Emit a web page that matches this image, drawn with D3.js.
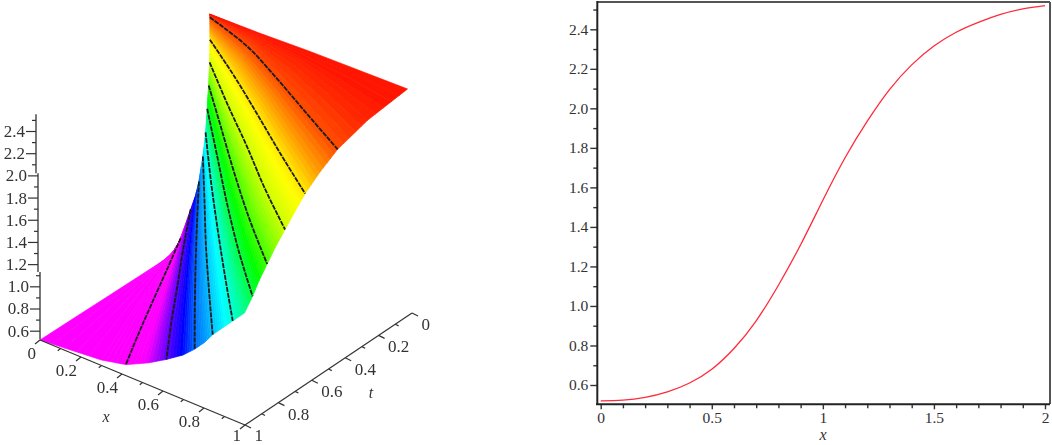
<!DOCTYPE html>
<html>
<head>
<meta charset="utf-8">
<script src="https://cdn.jsdelivr.net/npm/d3@7"></script>
<style>
  body { margin: 0; background: #fff; }
  text { font-family: "Liberation Serif", serif; fill: #333; }
</style>
</head>
<body>
<div id="chart"></div>
<script>
// right plot: curve
var curveX = [0, 0.1, 0.2, 0.3, 0.4, 0.5, 0.6, 0.7, 0.8, 0.9, 1, 1.1, 1.2, 1.3, 1.4, 1.5, 1.6, 1.7, 1.8, 1.9, 2];
var curveY = [0.52, 0.523, 0.537, 0.565, 0.61, 0.68, 0.785, 0.925, 1.105, 1.31, 1.535, 1.75, 1.935, 2.095, 2.22, 2.315, 2.385, 2.435, 2.475, 2.503, 2.52];
var rightYMajor = [0.6, 0.8, 1.0, 1.2, 1.4, 1.6, 1.8, 2.0, 2.2, 2.4];
var rightYMinor = [0.7, 0.9, 1.1, 1.3, 1.5, 1.7, 1.9, 2.1, 2.3, 2.5];
var rightXMajor = [0, 0.5, 1, 1.5, 2];
var rightXMinor = [0.1, 0.2, 0.3, 0.4, 0.6, 0.7, 0.8, 0.9, 1.1, 1.2, 1.3, 1.4, 1.6, 1.7, 1.8, 1.9];

// left plot: the surface, kept as height lines.
// each row is one height: the line runs from x=0 to x=lineEndX, t is read at 5 stations along it
var stations = [0, 0.25, 0.5, 0.75, 1];
var heights = [0.52, 0.57, 0.62, 0.72, 0.82, 0.92, 1.02, 1.12, 1.22, 1.32, 1.42, 1.52, 1.62, 1.72, 1.82, 1.92, 2.02, 2.12, 2.22, 2.32, 2.42];
var lineEndX = [0, 0.30, 0.42, 0.53, 0.62, 0.70, 0.76, 0.81, 0.85, 0.90, 0.95, 1, 1, 1, 1, 1, 1, 1, 1, 1, 1];
var lineT = [
  [0.244, 0.433, 0.622, 0.811, 1],
  [0.215, 0.41, 0.61, 0.805, 1],
  [0.19, 0.39, 0.595, 0.80, 1],
  [0.16, 0.37, 0.58, 0.79, 1],
  [0.13, 0.35, 0.565, 0.785, 1],
  [0.10, 0.325, 0.55, 0.775, 1],
  [0.08, 0.31, 0.54, 0.77, 1],
  [0.068, 0.30, 0.535, 0.77, 1],
  [0.055, 0.29, 0.53, 0.765, 1],
  [0.045, 0.284, 0.52, 0.76, 1],
  [0.037, 0.28, 0.52, 0.76, 1],
  [0.03, 0.27, 0.515, 0.755, 0.99],
  [0.025, 0.255, 0.49, 0.72, 0.94],
  [0.02, 0.24, 0.465, 0.685, 0.90],
  [0.014, 0.225, 0.44, 0.65, 0.85],
  [0.01, 0.21, 0.41, 0.61, 0.80],
  [0.006, 0.19, 0.37, 0.56, 0.74],
  [0.004, 0.165, 0.335, 0.51, 0.68],
  [0.002, 0.145, 0.30, 0.46, 0.617],
  [0.001, 0.105, 0.24, 0.385, 0.53],
  [0, 0.07, 0.18, 0.30, 0.42]
];
// the shoulder between the last height line and the t=0 edge: heights and t at the same stations
var shoulderU = [2.44, 2.45, 2.48, 2.50, 2.50];
var shoulderT = [0, 0.02, 0.07, 0.15, 0.24];
var topEdgeU = [2.45, 2.47, 2.50, 2.52, 2.54];
var drawnLines = [0.62, 0.82, 1.02, 1.22, 1.42, 1.62, 1.82, 2.02, 2.22, 2.42];
var hueHeights = [0.52, 0.7, 0.82, 1.02, 1.22, 1.42, 1.62, 1.82, 2.02, 2.22, 2.42, 2.5, 2.53];
var hueValues = [300, 300, 262, 215, 195, 172, 135, 105, 72, 55, 18, 3, 0];

var leftXTicks = [0, 0.2, 0.4, 0.6, 0.8, 1];
var leftXMinor = [0.1, 0.3, 0.5, 0.7, 0.9];
var leftZTicks = [0.6, 0.8, 1.0, 1.2, 1.4, 1.6, 1.8, 2.0, 2.2, 2.4];
var leftZMinor = [0.7, 0.9, 1.1, 1.3, 1.5, 1.7, 1.9, 2.1, 2.3, 2.5];

var svg = d3.select("#chart").append("svg").attr("width", 1052).attr("height", 445);
var defs = svg.append("defs");
defs.append("filter").attr("id", "soft").append("feGaussianBlur").attr("stdDeviation", 0.35);

//---------- right plot
var x = d3.scaleLinear().domain([0, 2]).range([600.7, 1045]);
var y = d3.scaleLinear().domain([0.6, 2.4]).range([385, 29.3]);
var right = svg.append("g");

right.append("line").attr("x1", 597).attr("x2", 1050).attr("y1", 2).attr("y2", 2).attr("stroke", "#555").attr("stroke-width", 2);
right.append("line").attr("x1", 1050).attr("x2", 1050).attr("y1", 2).attr("y2", 404).attr("stroke", "#555").attr("stroke-width", 2);

function styleAxis(g) {
  g.selectAll("path").remove();
  g.selectAll("line").attr("stroke", "#333").attr("stroke-width", 1.4);
  g.selectAll("text").style("font-size", "15.5px").attr("fill", "#333");
}

right.append("g").attr("transform", "translate(597.3,0)")
  .call(d3.axisLeft(y).tickValues(rightYMajor).tickSize(7).tickPadding(2).tickFormat(d3.format(".1f"))).call(styleAxis);
right.append("g").attr("transform", "translate(597.3,0)")
  .call(d3.axisLeft(y).tickValues(rightYMinor).tickSize(4).tickFormat("")).call(styleAxis);
right.append("g").attr("transform", "translate(0,404.3)")
  .call(d3.axisBottom(x).tickValues(rightXMajor).tickSize(5).tickPadding(3).tickFormat(d3.format("~g"))).call(styleAxis);
right.append("g").attr("transform", "translate(0,404.3)")
  .call(d3.axisBottom(x).tickValues(rightXMinor).tickSize(4).tickFormat("")).call(styleAxis);

right.append("line").attr("x1", 597.3).attr("x2", 597.3).attr("y1", 1).attr("y2", 405).attr("stroke", "#222").attr("stroke-width", 2);
right.append("line").attr("x1", 596).attr("x2", 1050).attr("y1", 404.3).attr("y2", 404.3).attr("stroke", "#222").attr("stroke-width", 2);

right.append("text").attr("x", 823).attr("y", 440).attr("text-anchor", "middle")
  .style("font-size", "16px").style("font-style", "italic").text("x");

var line = d3.line().x(function(d) { return x(d[0]); }).y(function(d) { return y(d[1]); }).curve(d3.curveNatural);
right.append("path").datum(d3.zip(curveX, curveY)).attr("d", line)
  .attr("fill", "none").attr("stroke", "#ff2a3a").attr("stroke-width", 1.3);

//---------- left plot
var left = svg.append("g").attr("filter", "url(#soft)");

// where the floor edges x=0 and x=1 run on the page as t goes 1 -> 0
var edge0X = d3.scaleLinear().domain([1, 0]).range([40, 214]);
var edge0Y = d3.scaleLinear().domain([1, 0]).range([340, 228]);
var edge1X = d3.scaleLinear().domain([1, 0]).range([245, 412]);
var edge1Y = d3.scaleLinear().domain([1, 0]).range([425, 313]);
var liftY = d3.scaleLinear().domain([0.52, 2.4]).range([0, -208.5]);
var leanX = d3.scaleLinear().domain([0.52, 2.4]).range([0, -4.2]);

function project(px, pt, pu) {
  return [
    d3.interpolateNumber(edge0X(pt), edge1X(pt))(px) + leanX(pu),
    d3.interpolateNumber(edge0Y(pt), edge1Y(pt))(px) + liftY(pu)
  ];
}

var rows = heights.map(function(h, r) {
  return stations.map(function(s, i) { return project(lineEndX[r] * s, lineT[r][i], h); });
});
var rowU = heights.map(function(h) { return stations.map(function() { return h; }); });
rows.push(stations.map(function(s, i) { return project(s, shoulderT[i], shoulderU[i]); }));
rowU.push(shoulderU);
rows.push(stations.map(function(s, i) { return project(s, 0, topEdgeU[i]); }));
rowU.push(topEdgeU);

var hue = d3.scaleLinear().domain(hueHeights).range(hueValues);
var strips = [];
var perBand = 5;
d3.range(rows.length - 1).forEach(function(r) {
  d3.range(perBand).forEach(function(k) {
    var a = k / perBand, b = (k + 1) / perBand;
    var low = rows[r].map(function(p, i) { return d3.interpolate(p, rows[r + 1][i])(a); });
    var high = rows[r].map(function(p, i) { return d3.interpolate(p, rows[r + 1][i])(b); });
    var u = d3.interpolateNumber(d3.mean(rowU[r]), d3.mean(rowU[r + 1]))((a + b) / 2);
    strips.push({ pts: low.concat(high.reverse()), u: u });
  });
});

left.selectAll(".strip").data(strips).enter().append("polygon")
  .attr("class", "strip")
  .attr("points", function(d) { return d.pts.join(" "); })
  .attr("fill", function(d) { return d3.hsl(hue(d.u), 1, 0.5); })
  .attr("stroke", function(d) { return d3.hsl(hue(d.u), 1, 0.5); })
  .attr("stroke-width", 0.7);

var contour = d3.line().curve(d3.curveCatmullRom);
left.selectAll(".level").data(drawnLines).enter().append("path")
  .attr("class", "level")
  .attr("d", function(h) { return contour(rows[heights.indexOf(h)]); })
  .attr("fill", "none")
  .attr("stroke", "#1c1c1c")
  .attr("stroke-width", 1.8)
  .attr("stroke-dasharray", "5 1");

// z axis comes in three pieces, each sitting a little further left going up
var zScale = d3.scaleLinear().domain([0.6, 2.4]).range([330.7, 131]);
var zPieces = [
  { from: 0.52, to: 1.13, at: 40 },
  { from: 1.13, to: 2.02, at: 38 },
  { from: 2.02, to: 2.55, at: 36 }
];
zPieces.forEach(function(piece) {
  var inside = function(v) { return v >= piece.from && v < piece.to; };
  var g = left.append("g").attr("transform", "translate(" + piece.at + ",0)");
  g.append("g").call(d3.axisLeft(zScale).tickValues(leftZTicks.filter(inside)).tickSize(10).tickPadding(1).tickFormat(d3.format(".1f")))
    .call(function(a) {
      a.selectAll("path").remove();
      a.selectAll("line").attr("stroke", "#333").attr("stroke-width", 1.2);
      a.selectAll("text").style("font-size", "17px").attr("fill", "#333");
    });
  g.append("g").call(d3.axisLeft(zScale).tickValues(leftZMinor.filter(inside)).tickSize(4).tickFormat(""))
    .call(function(a) {
      a.selectAll("path").remove();
      a.selectAll("line").attr("stroke", "#333").attr("stroke-width", 1.2);
    });
  g.append("line").attr("y1", zScale(piece.from)).attr("y2", zScale(piece.to))
    .attr("stroke", "#333").attr("stroke-width", 1.3);
});

// the two floor axes are slanted, so ticks are placed from a scale along each of them
function slantAxis(start, end, tickDir, major, minor, labelOffset, anchor) {
  var sx = d3.scaleLinear().domain([start.v, end.v]).range([start.x, end.x]);
  var sy = d3.scaleLinear().domain([start.v, end.v]).range([start.y, end.y]);
  left.append("line").attr("x1", start.x).attr("y1", start.y).attr("x2", end.x).attr("y2", end.y)
    .attr("stroke", "#333").attr("stroke-width", 1.2);
  left.selectAll(null).data(major.concat(minor)).enter().append("line")
    .attr("x1", function(d) { return sx(d); })
    .attr("y1", function(d) { return sy(d); })
    .attr("x2", function(d, i) { return sx(d) + tickDir[0] * (i < major.length ? 1 : 0.55); })
    .attr("y2", function(d, i) { return sy(d) + tickDir[1] * (i < major.length ? 1 : 0.55); })
    .attr("stroke", "#333").attr("stroke-width", 1.2);
  left.selectAll(null).data(major).enter().append("text")
    .attr("x", function(d) { return sx(d) + labelOffset[0]; })
    // the corner label sits right on the bottom of the page
    .attr("y", function(d) { return Math.min(sy(d) + labelOffset[1], 441); })
    .attr("text-anchor", anchor)
    .style("font-size", "17px")
    .text(d3.format("~g"));
}

slantAxis({ v: 0, x: 40, y: 340 }, { v: 1, x: 245, y: 425 }, [-5, 4], leftXTicks, leftXMinor, [-4, 19], "end");
slantAxis({ v: 0, x: 412, y: 313 }, { v: 1, x: 245, y: 425 }, [6, 3], leftXTicks, leftXMinor, [9.5, 17], "start");

left.append("text").attr("x", 106).attr("y", 422).attr("text-anchor", "middle")
  .style("font-size", "16px").style("font-style", "italic").text("x");
left.append("text").attr("x", 371).attr("y", 398).attr("text-anchor", "middle")
  .style("font-size", "16px").style("font-style", "italic").text("t");
</script>
</body>
</html>
